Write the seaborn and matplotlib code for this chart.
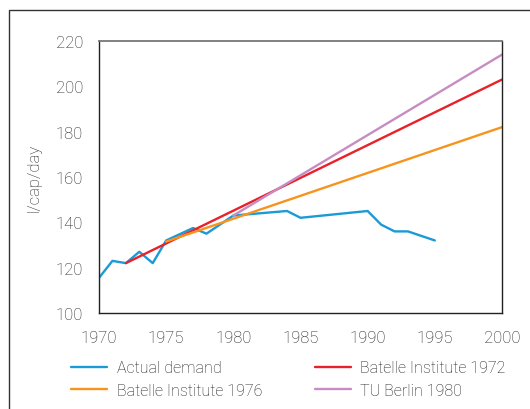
import matplotlib
matplotlib.use("Agg")
import matplotlib.pyplot as plt
import seaborn as sns
import pandas as pd
from matplotlib.patches import Rectangle
from matplotlib.lines import Line2D

# ---- data ----
actual_years = [1970, 1971, 1972, 1973, 1974, 1975, 1977, 1978, 1980, 1984, 1985, 1990, 1991, 1992, 1993, 1995]
actual_values = [115.5, 123, 122, 127, 122, 132, 137.5, 135, 143, 145, 142, 145, 139, 136, 136, 132]

b1972_years = [1972, 2000]
b1972_values = [122, 203]
b1976_years = [1975, 2000]
b1976_values = [131.5, 182]
tu1980_years = [1980, 2000]
tu1980_values = [143, 214]

series_names = ["Actual demand", "Batelle Institute 1972", "Batelle Institute 1976", "TU Berlin 1980"]
series_colors = ["#1c9ad6", "#e8212b", "#f7941e", "#c88cc2"]

x_ticks = [1970, 1975, 1980, 1985, 1990, 1995, 2000]
y_ticks = [100, 120, 140, 160, 180, 200, 220]
y_label = "l/cap/day"

rows = []
for name, yrs, vals in zip(series_names,
                           [actual_years, b1972_years, b1976_years, tu1980_years],
                           [actual_values, b1972_values, b1976_values, tu1980_values]):
    for yr, v in zip(yrs, vals):
        rows.append({"year": yr, "value": v, "series": name})
df = pd.DataFrame(rows)

sns.set_theme(style="white")
FW = "light"
plt.rcParams["font.family"] = ["Roboto", "DejaVu Sans"]
plt.rcParams["font.weight"] = FW
text_color = "#1e1e1e"

fig = plt.figure(figsize=(5.3, 4.1), dpi=100)
ax = fig.add_axes([99 / 530, 1 - 314 / 410, (502 - 99) / 530, (314 - 42) / 410])

palette = dict(zip(series_names, series_colors))
sns.lineplot(data=df, x="year", y="value", hue="series", hue_order=series_names,
             palette=palette, linewidth=1.7, ax=ax, legend=False, sort=True)

ax.set_xlim(1970, 2000)
ax.set_ylim(100, 220)
ax.set_xticks(x_ticks)
ax.set_yticks(y_ticks)
ax.set_xlabel("")
ax.set_ylabel(y_label, fontsize=12, color=text_color, labelpad=10, fontweight=FW)
ax.tick_params(axis="both", direction="inout", length=11, width=1, colors="#222222",
               labelsize=12, labelcolor=text_color)
ax.tick_params(axis="x", pad=7)
ax.tick_params(axis="y", pad=6)
for lbl in ax.get_xticklabels() + ax.get_yticklabels():
    lbl.set_fontweight(FW)
for s in ax.spines.values():
    s.set_color("#222222")
    s.set_linewidth(1)
ax.spines["top"].set_color("#777777")
ax.spines["top"].set_linewidth(1.3)
ax.grid(False)

# legend: row 1 -> Actual, B1972 ; row 2 -> B1976, TU
order = [0, 2, 1, 3]
handles = [Line2D([], [], color=series_colors[i], linewidth=1.7) for i in order]
labels = [series_names[i] for i in order]
leg = fig.legend(handles, labels, ncol=2, loc="upper left", bbox_to_anchor=(57 / 530, 1 - 347 / 410),
                 frameon=False, handlelength=2.25, handletextpad=0.6,
                 columnspacing=3.3, labelspacing=0.45, labelcolor=text_color,
                 prop={"weight": FW, "size": 11.5, "family": ["Roboto", "DejaVu Sans"]})

# outer frame (partially cut off)
fig.patches.append(Rectangle((9 / 530, -0.1), 1.2, 1 - 11 / 410 + 0.1, transform=fig.transFigure,
                             fill=False, edgecolor="#333333", linewidth=1))

fig.savefig("out.png", dpi=100)
